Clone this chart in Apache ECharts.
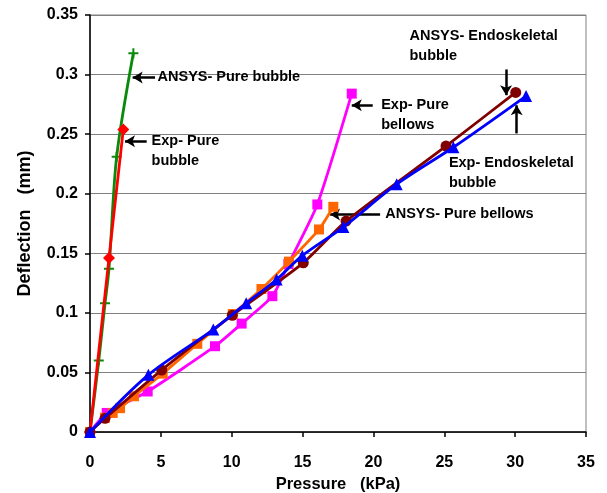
<!DOCTYPE html>
<html>
<head>
<meta charset="utf-8">
<script src="https://cdn.jsdelivr.net/npm/echarts@6/dist/echarts.min.js"></script>
<style>
html,body{margin:0;padding:0;background:#fff;}
#chart{width:607px;height:493px;}
</style>
</head>
<body>
<div id="chart"></div>
<script>
// ---- data ----
const xTicks = [0, 5, 10, 15, 20, 25, 30, 35];
const yTicks = [0, 0.05, 0.1, 0.15, 0.2, 0.25, 0.3, 0.35];

const ansysPureBubble = [[0,0],[0.62,0.060],[1.06,0.108],[1.34,0.137],[1.88,0.231],[3.06,0.318]];
const expPureBubble = [[0,0],[1.34,0.146],[2.35,0.254]];
const expPureBellows = [[0,0],[1.18,0.016],[4.07,0.034],[8.82,0.072],[10.7,0.091],[12.87,0.114],[14.0,0.141],[16.04,0.191],[18.47,0.284]];
const ansysPureBellows = [[0,0],[1.06,0.012],[1.6,0.016],[2.12,0.020],[3.1,0.030],[5.13,0.049],[7.57,0.074],[10.07,0.099],[12.1,0.120],[14.04,0.143],[16.16,0.170],[17.17,0.189]];
const ansysEndo = [[0,0],[1.06,0.0115],[5.06,0.052],[10.04,0.098],[15.05,0.142],[18.07,0.177],[25.12,0.240],[30.04,0.285]];
const expEndo = [[0,0],[4.12,0.048],[8.7,0.086],[11.02,0.108],[13.17,0.128],[14.98,0.148],[17.88,0.172],[21.64,0.208],[25.64,0.239],[30.77,0.282]];

const annoTexts = ['ANSYS- Pure bubble','Exp- Pure\nbubble','Exp- Pure\nbellows','ANSYS- Pure bellows','ANSYS- Endoskeletal\nbubble','Exp- Endoskeletal\nbubble'];
const annoAnchors = [[4.8,0.306],[4.38,0.2524],[20.58,0.2827],[20.87,0.1913],[22.58,0.340],[25.36,0.2338]];
const arrowLines = [
  [[4.59,0.2976],[3.01,0.2976]],
  [[4.0,0.244],[2.47,0.244]],
  [[19.95,0.2743],[18.47,0.2743]],
  [[20.47,0.1826],[16.94,0.1826]],
  [[29.36,0.3043],[29.36,0.2827]],
  [[30.11,0.2506],[30.11,0.2743]]
];

const FONT = '"Liberation Sans", Arial, sans-serif';
const plusPath = 'path://M0,4 L4,4 L4,0 L6,0 L6,4 L10,4 L10,6 L6,6 L6,10 L4,10 L4,6 L0,6 Z';

function lineSeries(name, data, color, symbol, size, z, smooth){
  return {
    name, type:'line', data, z,
    smooth: smooth,
    symbol, symbolSize:size, showSymbol:true,
    lineStyle:{color, width:2.8},
    itemStyle:{color, borderWidth:0},
    animation:false
  };
}

const chart = echarts.init(document.getElementById('chart'), null, {renderer:'canvas'});
chart.setOption({
  backgroundColor:'#fff',
  animation:false,
  grid:{left:90, right:21, top:15, bottom:61, containLabel:false, outerBoundsMode:'none',
    show:true, borderColor:'#808080', borderWidth:1, backgroundColor:'transparent'},
  xAxis:{
    type:'value', min:xTicks[0], max:xTicks[xTicks.length-1], interval:5,
    name:'Pressure   (kPa)', nameLocation:'middle', nameGap:42,
    nameTextStyle:{fontFamily:FONT, fontWeight:'bold', fontSize:16.5, color:'#000'},
    axisLine:{show:true, lineStyle:{color:'#000', width:1.5}},
    axisTick:{show:true, inside:false, length:5, lineStyle:{color:'#000', width:1.5}},
    axisLabel:{margin:23, fontFamily:FONT, fontWeight:'bold', fontSize:16, color:'#000'},
    splitLine:{show:false}
  },
  yAxis:{
    type:'value', min:yTicks[0], max:yTicks[yTicks.length-1], interval:0.05,
    name:'Deflection   (mm)', nameLocation:'middle', nameGap:56, nameRotate:90,
    nameTextStyle:{fontFamily:FONT, fontWeight:'bold', fontSize:18, color:'#000'},
    axisLine:{show:true, lineStyle:{color:'#000', width:1.5}},
    axisTick:{show:true, inside:false, length:5, lineStyle:{color:'#000', width:1.5}},
    axisLabel:{margin:12, fontFamily:FONT, fontWeight:'bold', fontSize:16, color:'#000',
      formatter:v=>String(Math.round(v*100)/100)},
    splitLine:{show:true, lineStyle:{color:'#808080', width:1}}
  },
  series:[
    lineSeries('ANSYS- Pure bubble', ansysPureBubble, '#0a8a0a', plusPath, 10, 3, 0.3),
    lineSeries('Exp- Pure bubble', expPureBubble, '#ff0000', 'diamond', 12, 4, 0.2),
    lineSeries('Exp- Pure bellows', expPureBellows, '#ff00ff', 'rect', 10, 5, 0.2),
    lineSeries('ANSYS- Pure bellows', ansysPureBellows, '#ff6600', 'rect', 10, 6, 0.2),
    lineSeries('ANSYS- Endoskeletal bubble', ansysEndo, '#800000', 'circle', 11, 7, 0.2),
    lineSeries('Exp- Endoskeletal bubble', expEndo, '#0000ff', 'triangle', 12, 8, 0.3),
    {
      type:'line', data:[], z:10, animation:false,
      markLine:{
        silent:true, animation:false,
        symbol:['none','arrow'], symbolSize:[9,10],
        lineStyle:{color:'#000', width:2.5, type:'solid'},
        label:{show:false},
        data: arrowLines.map(p=>[{coord:p[0]},{coord:p[1]}])
      },
      markPoint:{
        silent:true, animation:false,
        symbol:'circle', symbolSize:1,
        itemStyle:{color:'rgba(0,0,0,0)'},
        label:{show:true, position:[0,0], align:'left', verticalAlign:'top',
          fontFamily:FONT, fontWeight:'bold', fontSize:14.5, lineHeight:20, color:'#000',
          formatter:p=>p.name},
        data: annoTexts.map((t,i)=>({name:t, coord:annoAnchors[i]}))
      }
    }
  ]
});
</script>
</body>
</html>
